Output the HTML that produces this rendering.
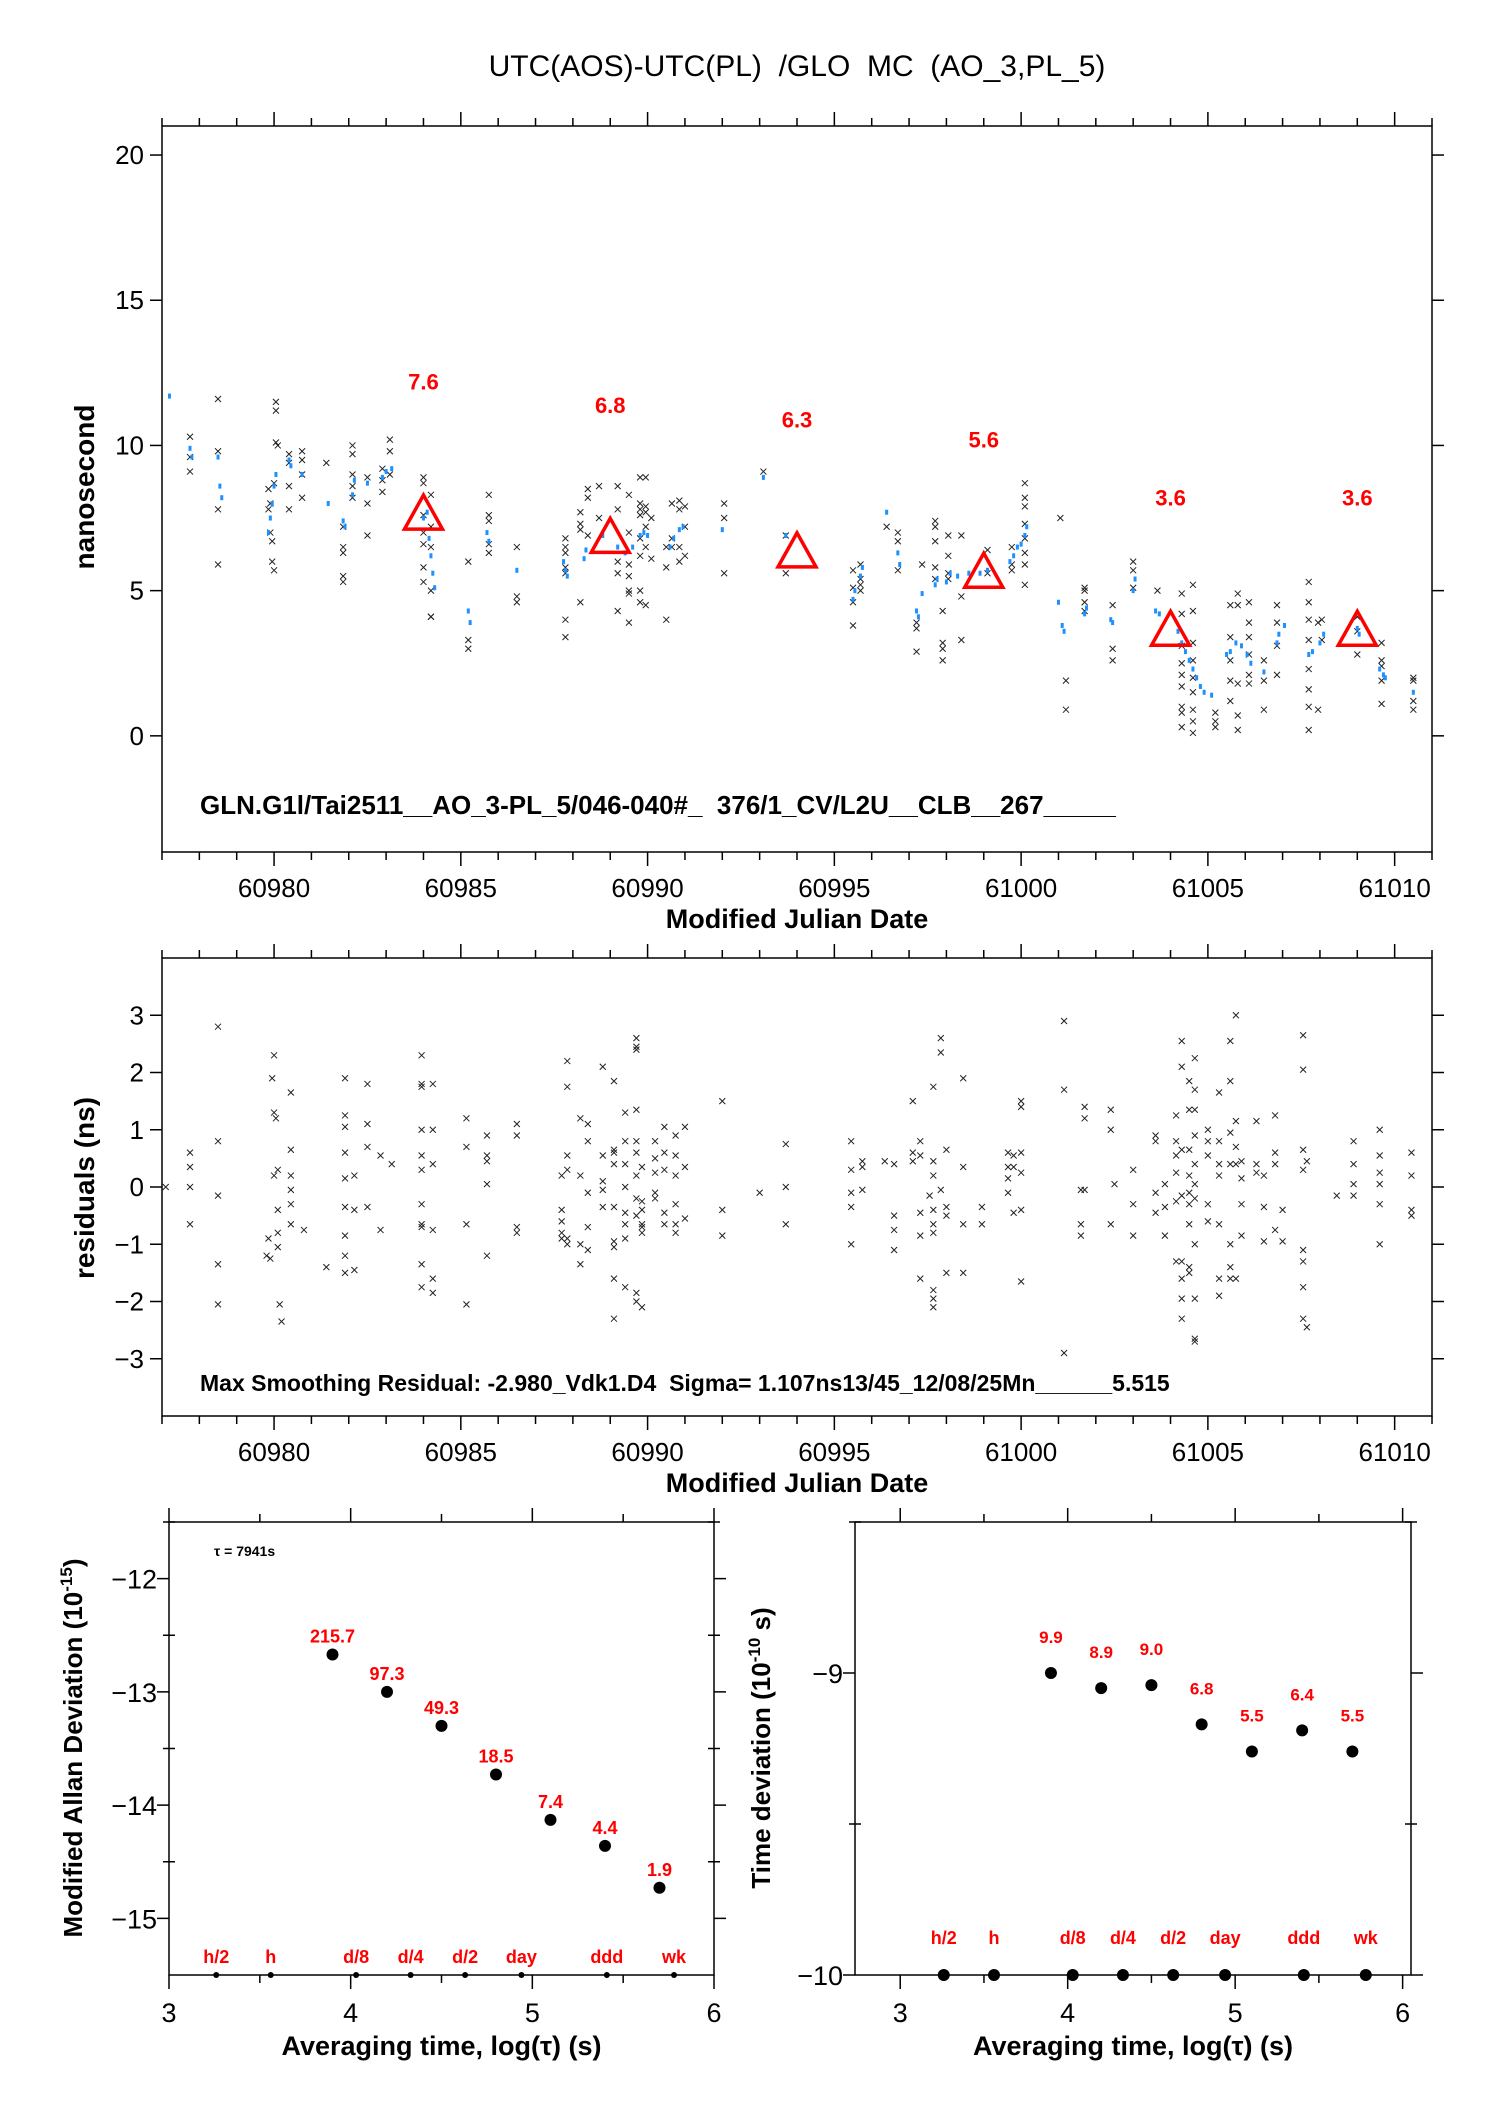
<!DOCTYPE html>
<html><head><meta charset="utf-8"><style>
html,body{margin:0;padding:0;background:#fff}
svg{display:block;font-family:"Liberation Sans",sans-serif}
svg text{white-space:pre}
</style></head><body>
<svg id="c" width="1488" height="2105" viewBox="0 0 1488 2105">
<text x="797" y="76" font-size="30" text-anchor="middle" xml:space="preserve">UTC(AOS)-UTC(PL)  /GLO  MC  (AO_3,PL_5)</text>
</svg>
<script>
// ---- top panel data ----
const triMjd=[60984,60989,60994,60999,61004,61009];
const triVal=[7.6,6.8,6.3,5.6,3.6,3.6];
const triLabels=["7.6","6.8","6.3","5.6","3.6","3.6"];
const xMjd=[60977.75,60977.75,60977.75,60978.5,60978.5,60978.5,60978.5,60979.85,60979.85,60979.9,60979.9,60979.95,60979.95,60980,60980,60980.05,60980.05,60980.05,60980.1,60980.4,60980.4,60980.4,60980.4,60980.75,60980.75,60980.75,60980.75,60981.4,60981.85,60981.85,60981.85,60981.85,60981.85,60982.1,60982.1,60982.1,60982.1,60982.1,60982.5,60982.5,60982.5,60982.9,60982.9,60982.9,60983.1,60983.1,60983.1,60984,60984,60984,60984,60984,60984,60984,60984.2,60984.2,60984.2,60984.2,60984.2,60984.2,60985.2,60985.2,60985.2,60985.75,60985.75,60985.75,60985.75,60985.75,60986.5,60986.5,60986.5,60987.8,60987.8,60987.8,60987.8,60987.8,60987.8,60987.8,60988.2,60988.2,60988.2,60988.2,60988.4,60988.4,60988.4,60988.7,60988.7,60989.2,60989.2,60989.2,60989.2,60989.2,60989.5,60989.5,60989.5,60989.5,60989.5,60989.5,60989.5,60989.8,60989.8,60989.8,60989.8,60989.8,60989.8,60989.8,60989.8,60989.95,60989.95,60989.95,60989.95,60989.95,60989.95,60990.1,60990.1,60990.5,60990.5,60990.5,60990.65,60990.65,60990.65,60990.85,60990.85,60990.85,60990.85,60991,60991,60991,60992.05,60992.05,60992.05,60993.1,60993.7,60993.7,60995.5,60995.5,60995.5,60995.5,60995.7,60995.7,60995.7,60995.7,60996.4,60996.7,60996.7,60996.7,60997.2,60997.2,60997.2,60997.35,60997.7,60997.7,60997.7,60997.7,60997.7,60997.9,60997.9,60997.9,60997.9,60998.05,60998.05,60998.05,60998.05,60998.4,60998.4,60998.4,60999.1,60999.1,60999.75,60999.75,60999.75,61000.1,61000.1,61000.1,61000.1,61000.1,61000.1,61000.1,61000.1,61001.05,61001.2,61001.2,61001.7,61001.7,61001.7,61001.7,61002.45,61002.45,61002.45,61003,61003,61003,61003.65,61004.3,61004.3,61004.3,61004.3,61004.3,61004.3,61004.3,61004.3,61004.3,61004.6,61004.6,61004.6,61004.6,61004.6,61004.6,61004.6,61004.6,61004.6,61005.2,61005.2,61005.2,61005.6,61005.6,61005.6,61005.6,61005.6,61005.8,61005.8,61005.8,61005.8,61005.8,61006.1,61006.1,61006.1,61006.1,61006.1,61006.1,61006.5,61006.5,61006.5,61006.85,61006.85,61006.85,61006.85,61007.7,61007.7,61007.7,61007.7,61007.7,61007.7,61007.7,61007.7,61007.95,61007.95,61008.05,61008.05,61009,61009,61009,61009.65,61009.65,61009.65,61009.65,61009.65,61010.5,61010.5,61010.5,61010.5];
const xVal=[10.3,9.6,9.1,11.6,9.8,7.8,5.9,8.5,7.8,8.0,7.0,6.7,6.0,5.7,8.7,11.5,11.2,10.1,10.0,9.7,9.4,8.6,7.8,9.8,9.5,9.0,8.2,9.4,7.2,6.5,6.3,5.5,5.3,10.0,9.7,9.0,8.6,8.2,8.9,8.0,6.9,9.2,8.8,8.4,10.2,9.8,9.0,8.9,8.7,7.6,7.0,6.6,5.8,5.3,8.3,7.2,6.5,5.0,4.1,4.1,6.0,3.3,3.0,8.3,7.6,7.4,6.6,6.3,6.5,4.8,4.6,6.8,6.5,6.3,5.8,5.6,4.0,3.4,7.7,7.3,7.1,4.6,8.5,8.2,6.9,8.6,7.5,8.6,7.8,6.0,5.6,4.3,8.3,7.0,5.9,5.5,5.0,4.9,3.9,8.9,8.0,7.8,7.6,6.8,6.2,5.0,4.6,8.9,7.9,7.7,7.2,6.5,4.5,7.5,6.1,6.5,4.0,5.8,8.0,6.8,6.5,8.1,7.8,6.5,6.0,7.9,7.2,6.2,8.0,7.5,5.6,9.1,6.9,5.6,5.7,5.1,4.6,3.8,5.9,5.4,5.2,5.0,7.2,7.0,6.7,5.7,3.9,3.7,2.9,5.9,7.4,7.2,6.7,5.8,5.4,4.3,3.2,3.0,2.6,6.9,6.2,5.6,5.4,6.9,4.8,3.3,6.4,5.6,6.5,5.9,5.7,8.7,8.2,7.9,7.3,6.8,6.3,5.9,5.2,7.5,1.9,0.9,5.1,5.0,4.6,4.3,4.5,3.0,2.6,6.0,5.7,5.1,5.0,4.9,4.2,3.1,2.5,2.1,1.7,1.0,0.8,0.3,5.2,4.3,3.2,2.6,2.0,1.5,0.9,0.5,0.1,0.8,0.5,0.3,4.5,3.4,2.6,1.9,1.2,4.9,4.5,1.8,0.7,0.2,4.6,3.9,3.4,2.8,2.1,1.8,2.6,1.9,0.9,4.5,3.9,3.1,2.1,5.3,4.6,4.0,3.3,2.3,1.6,1.0,0.2,3.9,0.9,4.0,3.3,4.1,3.6,2.8,3.2,2.6,2.4,1.9,1.1,2.0,1.9,1.2,0.9];
const bMjd=[60977.2,60977.75,60977.8,60978.5,60978.55,60978.6,60979.85,60979.9,60979.95,60980.0,60980.05,60980.4,60980.45,60980.75,60981.45,60981.85,60981.9,60982.1,60982.15,60982.5,60982.9,60983.0,60983.15,60984.0,60984.1,60984.15,60984.2,60984.25,60984.3,60985.2,60985.25,60985.7,60985.75,60986.5,60987.75,60987.8,60987.85,60988.3,60988.35,60988.8,60989.2,60989.4,60989.6,60989.8,60989.9,60990.0,60990.6,60990.7,60990.85,60990.95,60992.0,60993.1,60993.7,60995.5,60995.55,60995.7,60995.75,60996.4,60996.7,60996.75,60997.2,60997.25,60997.35,60997.7,60997.75,60998.0,60998.1,60998.3,60998.6,60998.9,60999.1,60999.7,60999.8,60999.9,61000.0,61000.1,61000.15,61001.0,61001.1,61001.15,61001.7,61001.75,61002.4,61002.45,61003.0,61003.05,61003.6,61003.7,61004.2,61004.3,61004.4,61004.5,61004.6,61004.7,61004.8,61004.9,61005.1,61005.5,61005.6,61005.75,61005.9,61006.05,61006.15,61006.5,61006.85,61006.9,61007.05,61007.7,61007.8,61008.0,61008.1,61009.0,61009.05,61009.6,61009.7,61009.75,61010.5];
const bVal=[11.7,9.9,9.6,9.6,8.6,8.2,7.0,7.5,8.0,8.6,9.0,9.5,9.3,9.0,8.0,7.4,7.2,8.3,8.8,8.7,8.9,9.1,9.2,7.5,7.7,6.8,6.2,5.6,5.1,4.3,3.9,7.0,6.7,5.7,6.0,5.7,5.5,6.1,6.4,6.9,6.5,6.3,6.5,6.9,7.0,6.9,6.5,6.8,7.1,7.2,7.1,8.9,6.9,4.7,5.0,5.5,5.8,7.7,6.3,5.9,4.3,4.1,4.9,5.2,5.4,5.3,5.6,5.5,5.6,5.6,5.7,6.0,6.2,6.5,6.6,6.9,7.2,4.6,3.8,3.6,4.2,4.4,4.0,3.9,5.0,5.4,4.3,4.2,3.6,3.2,2.9,2.6,2.3,2.0,1.7,1.5,1.4,2.8,2.9,3.2,3.1,2.8,2.5,2.2,3.2,3.5,3.8,2.8,2.9,3.2,3.5,3.7,3.5,2.3,2.1,2.0,1.5];
// ---- residuals ----
const resMjd=[60977.1,60977.75,60977.75,60977.75,60977.75,60978.5,60978.5,60978.5,60978.5,60978.5,60979.8,60979.85,60979.9,60979.95,60980,60980,60980.05,60980.1,60980.1,60980.1,60980.15,60980.2,60980,60980.1,60980.45,60980.45,60980.45,60980.45,60980.45,60980.45,60980.8,60981.4,60981.9,60981.9,60981.9,60981.9,60981.9,60981.9,60981.9,60981.9,60981.9,60982.15,60982.15,60982.15,60982.5,60982.5,60982.5,60982.5,60982.85,60982.85,60983.15,60983.95,60983.95,60983.95,60983.95,60983.95,60983.95,60983.95,60983.95,60983.95,60983.95,60983.95,60984.25,60984.25,60984.25,60984.25,60984.25,60984.25,60985.15,60985.15,60985.15,60985.15,60985.7,60985.7,60985.7,60985.7,60985.7,60986.5,60986.5,60986.5,60986.5,60987.7,60987.7,60987.7,60987.7,60987.7,60987.85,60987.85,60987.85,60987.85,60987.85,60987.85,60988.2,60988.2,60988.2,60988.2,60988.4,60988.4,60988.4,60988.4,60988.4,60988.8,60988.8,60988.8,60988.8,60988.8,60989.1,60989.1,60989.1,60989.1,60989.1,60989.1,60989.1,60989.1,60989.1,60989.4,60989.4,60989.4,60989.4,60989.4,60989.4,60989.4,60989.4,60989.7,60989.7,60989.7,60989.7,60989.7,60989.7,60989.7,60989.7,60989.7,60989.7,60989.7,60989.85,60989.85,60989.85,60989.85,60989.85,60989.85,60989.85,60990.2,60990.2,60990.2,60990.2,60990.2,60990.45,60990.45,60990.45,60990.45,60990.45,60990.75,60990.75,60990.75,60990.75,60990.75,60990.75,60991,60991,60991,60992,60992,60992,60993,60993.7,60993.7,60993.7,60995.45,60995.45,60995.45,60995.45,60995.45,60995.75,60995.75,60995.75,60996.35,60996.6,60996.6,60996.6,60996.6,60997.1,60997.1,60997.1,60997.3,60997.3,60997.3,60997.3,60997.3,60997.55,60997.65,60997.65,60997.65,60997.65,60997.65,60997.65,60997.65,60997.65,60997.65,60997.85,60997.85,60997.85,60998,60998,60998,60998,60998.45,60998.45,60998.45,60998.45,60998.95,60998.95,60999.65,60999.65,60999.65,60999.65,60999.8,60999.8,60999.8,61000,61000,61000,61000,61000,61000,61001.15,61001.15,61001.15,61001.6,61001.6,61001.6,61001.7,61001.7,61001.7,61002.4,61002.4,61002.4,61002.5,61003,61003,61003,61003.6,61003.6,61003.6,61003.6,61003.85,61003.85,61003.85,61004.15,61004.15,61004.15,61004.15,61004.15,61004.15,61004.3,61004.3,61004.3,61004.3,61004.3,61004.3,61004.3,61004.3,61004.5,61004.5,61004.5,61004.5,61004.5,61004.5,61004.5,61004.5,61004.5,61004.65,61004.65,61004.65,61004.65,61004.65,61004.65,61004.65,61004.65,61004.65,61004.65,61004.65,61005,61005,61005,61005,61005,61005.3,61005.3,61005.3,61005.3,61005.3,61005.3,61005.3,61005.6,61005.6,61005.6,61005.6,61005.6,61005.6,61005.6,61005.75,61005.75,61005.75,61005.75,61005.75,61005.9,61005.9,61005.9,61005.9,61006.3,61006.3,61006.3,61006.5,61006.5,61006.5,61006.8,61006.8,61006.8,61006.8,61007,61007,61007.55,61007.55,61007.55,61007.55,61007.55,61007.55,61007.55,61007.55,61007.65,61007.65,61008.45,61008.9,61008.9,61008.9,61008.9,61009.6,61009.6,61009.6,61009.6,61009.6,61009.6,61010.45,61010.45,61010.45,61010.45];
const resVal=[0,0.6,0.35,0,-0.65,2.8,0.8,-0.15,-1.35,-2.05,-1.2,-0.9,-1.25,1.9,2.3,1.3,1.2,0.3,-0.8,-1.05,-2.05,-2.35,0.2,-0.4,1.65,0.65,0.2,-0.05,-0.3,-0.65,-0.75,-1.4,1.9,1.25,1.05,0.6,0.15,-0.35,-0.85,-1.2,-1.5,0.2,-0.4,-1.45,1.8,1.1,0.7,-0.35,0.55,-0.75,0.4,2.3,1.8,1.75,1.0,0.55,0.3,-0.3,-0.65,-0.7,-1.35,-1.75,1.8,1.0,0.4,-0.75,-1.6,-1.85,1.2,0.7,-0.65,-2.05,0.9,0.55,0.45,0.05,-1.2,1.1,0.9,-0.7,-0.8,0.2,-0.4,-0.6,-0.8,-0.9,2.2,1.75,0.55,0.3,-0.9,-1.0,1.2,0.2,-1.0,-1.35,1.1,0.8,-0.1,-0.7,-1.1,2.1,0.55,0.1,-0.05,-0.35,1.85,0.65,0.6,0.4,-0.35,-0.95,-1.05,-1.6,-2.3,1.3,0.8,0.4,0,-0.45,-0.65,-0.9,-1.75,2.6,2.45,2.4,1.35,0.8,0.6,0.2,-0.2,-0.5,-1.85,-2.0,0.35,-0.25,-0.4,-0.65,-0.7,-0.8,-2.1,0.8,0.5,0.25,-0.1,-0.2,1.05,0.6,0.3,-0.45,-0.65,0.9,0.55,0.2,-0.3,-0.65,-0.8,1.05,0.35,-0.55,1.5,-0.4,-0.85,-0.1,0.75,0,-0.65,0.8,0.3,-0.1,-0.35,-1.0,0.45,0.35,-0.05,0.45,0.4,-0.5,-0.75,-1.1,1.5,0.6,0.45,0.8,0.55,-0.45,-0.85,-1.6,-0.15,1.75,0.45,0.2,-0.4,-0.65,-0.8,-1.8,-1.95,-2.1,2.6,2.35,-0.05,0.65,-0.35,-0.5,-1.5,1.9,0.35,-0.65,-1.5,-0.35,-0.65,0.6,0.35,0.15,-0.1,0.55,0.35,-0.45,1.5,1.4,0.6,0.25,-0.4,-1.65,2.9,1.7,-2.9,-0.05,-0.65,-0.85,1.4,1.2,-0.05,1.35,1.0,-0.65,0.05,0.3,-0.3,-0.85,0.9,0.8,-0.1,-0.45,0.05,-0.35,-0.85,1.25,0.8,0.55,0.25,-0.25,-1.3,2.55,2.1,0.65,-0.15,-1.3,-1.6,-1.95,-2.3,1.85,1.35,0.65,0.2,-0.1,-0.3,-0.65,-1.4,-1.5,2.25,1.7,1.35,0.9,0.4,0.05,-0.2,-1.0,-1.95,-2.65,-2.7,1.0,0.8,0.55,-0.3,-0.6,1.65,0.8,0.4,0.2,-0.65,-1.6,-1.9,2.55,1.85,0.95,0.4,-1.0,-1.4,-1.6,3.0,1.15,0.7,0.4,-1.6,0.45,0.15,-0.3,-0.85,1.15,0.4,0.25,0.2,-0.35,-0.95,1.25,0.6,0.4,-0.75,-0.4,-0.95,2.65,2.05,0.65,0.3,-1.1,-1.3,-1.75,-2.3,0.45,-2.45,-0.15,0.8,0.4,0.05,-0.15,1.0,0.55,0.25,0.05,-0.3,-1.0,0.6,0.2,-0.4,-0.5];
// ---- Allan / time deviation ----
const adevTau=[3.9,4.2,4.5,4.8,5.1,5.4,5.7];
const adevVal=[-12.67,-13.0,-13.3,-13.73,-14.13,-14.36,-14.73];
const adevLabels=["215.7","97.3","49.3","18.5","7.4","4.4","1.9"];
const tdevVal=[-9.0,-9.05,-9.04,-9.17,-9.26,-9.19,-9.26];
const tdevLabels=["9.9","8.9","9.0","6.8","5.5","6.4","5.5"];
const markTau=[3.26,3.56,4.03,4.33,4.63,4.94,5.41,5.78];
const markLabels=["h/2","h","d/8","d/4","d/2","day","ddd","wk"];
const mjdTicks=[60980,60985,60990,60995,61000,61005,61010];
const topYTicks=[0,5,10,15,20];
const resYTicks=[-3,-2,-1,0,1,2,3];

const NS="http://www.w3.org/2000/svg";
const svg=document.getElementById('c');
function mk(tag,attrs,parent){const e=document.createElementNS(NS,tag);for(const k in attrs)e.setAttribute(k,attrs[k]);(parent||svg).appendChild(e);return e;}
function txt(x,y,s,size,opts){const e=mk('text',Object.assign({x:x,y:y,'font-size':size,'text-anchor':'middle'},opts||{}));e.textContent=s;return e;}

const TX0=162,TX1=1432;
const mx=m=>TX0+(m-60977)/34*(TX1-TX0);
const ty=v=>852-(v+4)/25*(852-126);
const ry=v=>1416-(v+4)/8*(1416-958);

function frame(x0,y0,x1,y1,name){
  const r=mk('rect',{x:x0,y:y0,width:x1-x0,height:y1-y0,fill:'none',stroke:'#000','stroke-width':1.5});
  
  
}
function line(x1,y1,x2,y2,w){return mk('line',{x1:x1,y1:y1,x2:x2,y2:y2,stroke:'#000','stroke-width':w||1.5});}

function mjdPanel(y0,y1,yfn,yticks,name){
  frame(TX0,y0,TX1,y1,name+'-frame');
  for(let m=60977;m<=61011;m++){
    const x=mx(m),major=(m%5===0);
    line(x,y0,x,y0-(major?14:8));
    line(x,y1,x,y1+(major?14:8));
  }
  mjdTicks.forEach(m=>{
    const t=txt(mx(m),y1+45,String(m),26);
    
    
  });
  yticks.forEach(v=>{
    const y=yfn(v);
    line(TX0-12,y,TX0,y);line(TX1,y,TX1+12,y);
    const t=txt(TX0-18,y+9,(v<0?'\u2212'+(-v):String(v)),26,{'text-anchor':'end'});
    
    
  });
  const xt=txt(797,y1+76,'Modified Julian Date',27,{'font-weight':'bold'});
  
  
}
function cross(x,y,name){
  const g=mk('g',{stroke:'#222','stroke-width':1});
  
  
  mk('line',{x1:x-3,y1:y-3,x2:x+3,y2:y+3},g);mk('line',{x1:x-3,y1:y+3,x2:x+3,y2:y-3},g);
}

// top panel
mjdPanel(126,852,ty,topYTicks,'offset-panel');
let yt=txt(0,0,'nanosecond',28,{'font-weight':'bold',transform:'translate(94,487) rotate(-90)'});

xMjd.forEach((m,i)=>cross(mx(m),ty(xVal[i]),'raw-point'));
bMjd.forEach((m,i)=>{
  const c=mk('rect',{x:mx(m)-1.5,y:ty(bVal[i])-2.5,width:3,height:5,fill:'#1e90ff'});
  
  
});
triMjd.forEach((m,i)=>{
  const x=mx(triMjd[i]),y=ty(triVal[i]);
  const p=mk('polygon',{points:`${x-19},${y+14} ${x+19},${y+14} ${x},${y-20}`,fill:'none',stroke:'#f00','stroke-width':3.5});
  
  
  const t=txt(x,ty(triVal[i]+4.6)+8,triLabels[i],22,{'font-weight':'bold',fill:'#f00'});
  
  
});
let an=txt(200,814,'GLN.G1l/Tai2511__AO_3-PL_5/046-040#_  376/1_CV/L2U__CLB__267_____',26,{'font-weight':'bold','text-anchor':'start'});


// residual panel
mjdPanel(958,1416,ry,resYTicks,'residual-panel');
yt=txt(0,0,'residuals (ns)',28,{'font-weight':'bold',transform:'translate(94,1188) rotate(-90)'});

resMjd.forEach((m,i)=>cross(mx(m),ry(resVal[i]),'residual-point'));
an=txt(200,1391,'Max Smoothing Residual: -2.980_Vdk1.D4  Sigma= 1.107ns13/45_12/08/25Mn______5.515',23,{'font-weight':'bold','text-anchor':'start'});


// bottom panels
function devPanel(x0,x1,tmin,tmax,vmin,vmax,yticks,minor,name){
  const y0=1522,y1=1975;
  const sx=t=>x0+(t-tmin)/(tmax-tmin)*(x1-x0);
  const sy=v=>y1-(v-vmin)/(vmax-vmin)*(y1-y0);
  frame(x0,y0,x1,y1,name+'-frame');
  [3,3.5,4,4.5,5,5.5,6].forEach(t=>{
    const maj=Number.isInteger(t),x=sx(t);
    line(x,y0,x,y0-(maj?14:8));line(x,y1,x,y1+(maj?14:8));
    if(maj){const l=txt(x,2022,String(t),27);
      }
  });
  yticks.forEach(v=>{const y=sy(v);line(x0-12,y,x0,y);line(x1,y,x1+12,y);
    const l=txt(x0-12,y+10,'\u2212'+(-v),27,{'text-anchor':'end'});
    });
  minor.forEach(v=>{const y=sy(v);line(x0-6,y,x0+6,y);line(x1-6,y,x1+6,y);});
  const xt=mk('text',{x:(x0+x1)/2,y:2055,'font-size':27,'font-weight':'bold','text-anchor':'middle'});
  xt.textContent='Averaging time, log(\u03c4) (s)';
  
  return {sx,sy};
}
const L=devPanel(169,714,3,6,-15.5,-11.5,[-12,-13,-14,-15],[-11.5,-12.5,-13.5,-14.5],'mdev-panel');
yt=txt(0,0,'',26,{'font-weight':'bold',transform:'translate(82,1748) rotate(-90)'});
yt.innerHTML='Modified Allan Deviation (10<tspan font-size="17" dy="-10">-15</tspan><tspan dy="10">)</tspan>';

an=txt(214,1556,'\u03c4 = 7941s',14,{'font-weight':'bold','text-anchor':'start'});

adevTau.forEach((t,i)=>{
  const c=mk('circle',{cx:L.sx(t),cy:L.sy(adevVal[i]),r:6,fill:'#000'});
  
  const l=txt(L.sx(t),L.sy(adevVal[i])-12,adevLabels[i],18,{'font-weight':'bold',fill:'#f00'});
  
});
markTau.forEach((t,i)=>{
  const c=mk('circle',{cx:L.sx(t),cy:1975,r:3,fill:'#000'});
  
  const l=txt(L.sx(t),1963,markLabels[i],18,{'font-weight':'bold',fill:'#f00'});
  
});

const R=devPanel(855,1411,2.73,6.05,-10,-8.5,[-9,-10],[-9.5,-8.5],'tdev-panel');
yt=txt(0,0,'',26,{'font-weight':'bold',transform:'translate(770,1748) rotate(-90)'});
yt.innerHTML='Time deviation (10<tspan font-size="17" dy="-10">-10</tspan><tspan dy="10"> s)</tspan>';

adevTau.forEach((t,i)=>{
  const c=mk('circle',{cx:R.sx(t),cy:R.sy(tdevVal[i]),r:6,fill:'#000'});
  
  const l=txt(R.sx(t),R.sy(tdevVal[i])-30,tdevLabels[i],17,{'font-weight':'bold',fill:'#f00'});
  
});
markTau.forEach((t,i)=>{
  const c=mk('circle',{cx:R.sx(t),cy:1975,r:6,fill:'#000'});
  
  const l=txt(R.sx(t),1944,markLabels[i],18,{'font-weight':'bold',fill:'#f00'});
  
});
</script>
</body></html>
